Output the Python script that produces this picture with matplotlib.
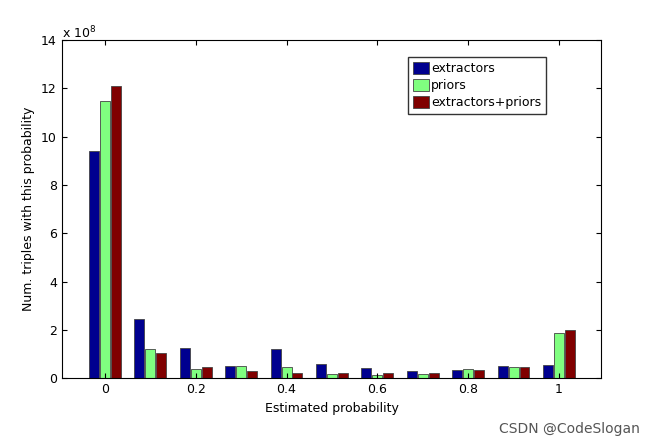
import matplotlib
matplotlib.use("Agg")
import matplotlib.pyplot as plt
import numpy as np

bins = np.round(np.arange(0, 1.01, 0.1), 1)
extractors = [9.4, 2.46, 1.26, 0.50, 1.20, 0.59, 0.44, 0.29, 0.33, 0.50, 0.54]
priors = [11.5, 1.19, 0.40, 0.52, 0.47, 0.18, 0.15, 0.18, 0.39, 0.47, 1.89]
combined = [12.1, 1.05, 0.47, 0.29, 0.23, 0.21, 0.21, 0.21, 0.36, 0.47, 1.99]

fig = plt.figure(figsize=(6.5, 4.46), dpi=100)
ax = fig.add_axes([0.095, 0.152, 0.83, 0.758])
w = 0.022
ax.bar(bins - 0.024, extractors, w, color="#00008f", edgecolor="#444444", lw=0.6, label="extractors")
ax.bar(bins, priors, w, color="#80ff80", edgecolor="#444444", lw=0.6, label="priors")
ax.bar(bins + 0.024, combined, w, color="#800000", edgecolor="#444444", lw=0.6, label="extractors+priors")

ax.set_xlim(-0.095, 1.093)
ax.set_ylim(0, 14)
ax.set_xticks([0, 0.2, 0.4, 0.6, 0.8, 1])
ax.set_xticklabels(["0", "0.2", "0.4", "0.6", "0.8", "1"])
ax.set_yticks(range(0, 15, 2))
ax.tick_params(direction="in", labelsize=9, top=True, right=True)
ax.text(0.0, 1.005, r"x 10$^8$", transform=ax.transAxes, fontsize=9)
ax.set_xlabel("Estimated probability", fontsize=9)
ax.set_ylabel("Num. triples with this probability", fontsize=9)
leg = ax.legend(loc="upper right", bbox_to_anchor=(0.91, 0.97), fontsize=9,
                fancybox=False, edgecolor="black", handlelength=1.3, handleheight=1.1,
                borderpad=0.4, labelspacing=0.3, handletextpad=0.2)
fig.text(0.985, 0.03, "CSDN @CodeSlogan", ha="right", fontsize=10, color="#555555")
fig.savefig("out.png", dpi=100)
